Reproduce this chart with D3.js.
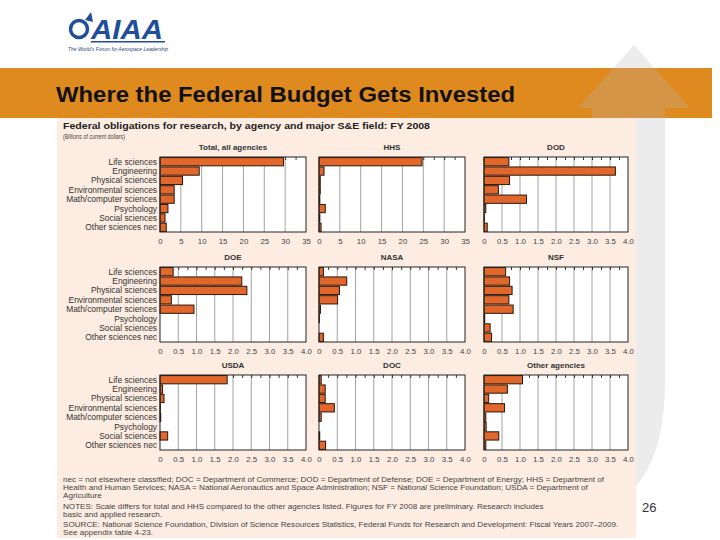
<!DOCTYPE html>
<html>
<head>
<meta charset="utf-8">
<script src="https://cdn.jsdelivr.net/npm/d3@7"></script>
<style>
  html, body { margin: 0; padding: 0; background: #ffffff; }
  svg { display: block; font-family: "Liberation Sans", Arial, Helvetica, sans-serif; }
</style>
</head>
<body>
<svg id="slide" width="720" height="540"></svg>
<script>
// ---------------- DATA ----------------
const categories = ["Life sciences", "Engineering", "Physical sciences", "Environmental sciences",
  "Math/computer sciences", "Psychology", "Social sciences", "Other sciences nec"];
const panelTitles = ["Total, all agencies", "HHS", "DOD", "DOE", "NASA", "NSF", "USDA", "DOC", "Other agencies"];
const totalAll      = [29.6, 9.4, 5.4, 3.4, 3.4, 1.9, 1.2, 1.5];
const hhs           = [24.7, 1.2, 0.3, 0.3, 0.2, 1.5, 0.2, 0.5];
const dod           = [0.69, 3.65, 0.71, 0.40, 1.18, 0.05, 0.01, 0.09];
const doe           = [0.36, 2.24, 2.38, 0.31, 0.93, 0, 0, 0];
const nasa          = [0.12, 0.76, 0.56, 0.51, 0.04, 0.01, 0, 0.12];
const nsf           = [0.60, 0.71, 0.78, 0.69, 0.81, 0.02, 0.17, 0.21];
const usda          = [1.84, 0.07, 0.11, 0.01, 0.02, 0, 0.21, 0];
const doc           = [0.06, 0.17, 0.17, 0.42, 0.06, 0, 0.02, 0.18];
const otherAgencies = [1.07, 0.65, 0.13, 0.57, 0.05, 0.06, 0.41, 0.05];
const wideTicks   = [0, 5, 10, 15, 20, 25, 30, 35];
const narrowTicks = [0, 0.5, 1.0, 1.5, 2.0, 2.5, 3.0, 3.5, 4.0];
const slideTitle = "Where the Federal Budget Gets Invested";
const chartTitle = "Federal obligations for research, by agency and major S&E field: FY 2008";
const chartUnits = "(Billions of current dollars)";
const noteLines = [
  "nec = not elsewhere classified; DOC = Department of Commerce; DOD = Department of Defense; DOE = Department of Energy; HHS = Department of",
  "Health and Human Services; NASA = National Aeronautics and Space Administration; NSF = National Science Foundation; USDA = Department of",
  "Agriculture",
  "NOTES: Scale differs for total and HHS compared to the other agencies listed. Figures for FY 2008 are preliminary. Research includes",
  "basic and applied research.",
  "SOURCE: National Science Foundation, Division of Science Resources Statistics, Federal Funds for Research and Development: Fiscal Years 2007\u20132009.",
  "See appendix table 4-23."
];
const pageNumber = "26";

// ---------------- DRAW ----------------
const svg = d3.select("#slide");
svg.append("rect").attr("width", 720).attr("height", 540).attr("fill", "#ffffff");

// orange title band
svg.append("rect").attr("x", 0).attr("y", 68).attr("width", 712).attr("height", 50).attr("fill", "#df8a1f");

// watermark arrow
svg.append("path")
  .attr("d", "M578,108 L634,45 L690,108 L665,108 L665,380 C665,430 656,460 637,486 L592,486 L592,108 Z")
  .attr("fill", "#b4b4b4").attr("opacity", 0.26);

// logo
const logo = svg.append("g");
logo.append("circle").attr("cx", 79).attr("cy", 29).attr("r", 8.5).attr("fill", "none")
  .attr("stroke", "#1f4e9a").attr("stroke-width", 3.5);
logo.append("path").attr("d", "M85,20 L91,12 L93,22 Z").attr("fill", "#1f4e9a");
logo.append("text").attr("x", 91).attr("y", 39).attr("font-size", 28).attr("font-weight", "bold")
  .attr("font-style", "italic").attr("fill", "#1f4e9a").attr("textLength", 72)
  .attr("lengthAdjust", "spacingAndGlyphs").text("AIAA");
logo.append("rect").attr("x", 91).attr("y", 41).attr("width", 74).attr("height", 1.5).attr("fill", "#1f4e9a");
logo.append("text").attr("x", 68).attr("y", 51).attr("font-size", 5).attr("font-style", "italic")
  .attr("fill", "#1f3f7a").attr("textLength", 100).attr("lengthAdjust", "spacingAndGlyphs")
  .text("The World's Forum for Aerospace Leadership");

// slide title
svg.append("text").attr("x", 56).attr("y", 102).attr("font-size", 22).attr("font-weight", "bold")
  .attr("fill", "#111").attr("textLength", 459).attr("lengthAdjust", "spacingAndGlyphs").text(slideTitle);

// chart backdrop
svg.append("rect").attr("x", 57).attr("y", 118).attr("width", 579).attr("height", 420).attr("fill", "#fcece1");

svg.append("text").attr("x", 63).attr("y", 129).attr("font-size", 9.5).attr("font-weight", "bold")
  .attr("fill", "#222").attr("textLength", 367).attr("lengthAdjust", "spacingAndGlyphs").text(chartTitle);
svg.append("text").attr("x", 63).attr("y", 139).attr("font-size", 7)
  .attr("fill", "#444").attr("textLength", 62).attr("lengthAdjust", "spacingAndGlyphs").text(chartUnits);

const panelValues = [totalAll, hhs, dod, doe, nasa, nsf, usda, doc, otherAgencies];
const colX = [160, 319, 484];
const colW = [146, 146, 144];
const rowY = [157, 267, 375];
const plotH = 75;
const fmt = v => v === 0 ? "0" : (Number.isInteger(v) && v >= 5 ? String(v) : d3.format(".1f")(v));

panelValues.forEach((vals, i) => {
  const col = i % 3, row = Math.floor(i / 3);
  const left = colX[col], top = rowY[row], W = colW[col];
  const ticks = i < 2 ? wideTicks : narrowTicks;
  const maxV = ticks[ticks.length - 1];
  const step = ticks[1] - ticks[0];
  const x = d3.scaleLinear().domain([0, maxV]).range([left, left + W]);
  const y = d3.scaleBand().domain(categories).range([top, top + plotH]).paddingInner(0.12).paddingOuter(0.06);
  const g = svg.append("g");

  g.append("rect").attr("x", left).attr("y", top).attr("width", W).attr("height", plotH).attr("fill", "#ffffff");

  // grid
  g.selectAll("line.grid").data(ticks.slice(1, -1)).join("line")
    .attr("x1", d => x(d)).attr("x2", d => x(d)).attr("y1", top).attr("y2", top + plotH)
    .attr("stroke", "#8a8a8a").attr("stroke-width", 0.8);

  // top minor ticks
  const minor = d3.range(0, maxV + 1e-9, step / 2).slice(1, -1);
  const topAxis = g.append("g").attr("transform", `translate(0,${top})`)
    .call(d3.axisTop(x).tickValues(minor).tickSize(-3).tickFormat(""));
  topAxis.select(".domain").remove();
  topAxis.selectAll("line").attr("stroke", "#222").attr("stroke-width", 0.9);

  // bottom labels
  const bot = g.append("g").attr("transform", `translate(0,${top + plotH})`)
    .call(d3.axisBottom(x).tickValues(ticks).tickSize(0).tickPadding(6).tickFormat(fmt));
  bot.select(".domain").remove();
  bot.selectAll("text").attr("font-size", 7.8).attr("fill", "#444")
    .attr("font-family", "\"Liberation Sans\", Arial, sans-serif");

  // bars
  g.selectAll("rect.bar").data(categories.map((c, k) => ({ c, v: vals[k] })).filter(d => d.v > 0)).join("rect")
    .attr("class", "bar")
    .attr("x", x(0)).attr("y", d => y(d.c))
    .attr("width", d => x(d.v) - x(0)).attr("height", y.bandwidth())
    .attr("fill", "#e2672b").attr("stroke", "#2a160c").attr("stroke-width", 1);

  // frame
  g.append("rect").attr("x", left).attr("y", top).attr("width", W).attr("height", plotH)
    .attr("fill", "none").attr("stroke", "#222").attr("stroke-width", 1);

  // title
  g.append("text").attr("x", left + W / 2).attr("y", top - 7).attr("text-anchor", "middle")
    .attr("font-size", 8).attr("font-weight", "bold").attr("fill", "#333").text(panelTitles[i]);

  // category labels (first column only)
  if (col === 0) {
    g.selectAll("text.cat").data(categories).join("text")
      .attr("x", left - 3).attr("y", d => y(d) + y.bandwidth() / 2 + 3)
      .attr("text-anchor", "end").attr("font-size", 8.4).attr("fill", "#333").text(d => d);
  }
});

// notes
const noteY = [482, 490, 498, 508.5, 516.5, 527, 535];
svg.selectAll("text.note").data(noteLines).join("text")
  .attr("x", 63).attr("y", (d, k) => noteY[k]).attr("font-size", 8.1).attr("fill", "#444").text(d => d);

svg.append("text").attr("x", 642).attr("y", 512).attr("font-size", 13).attr("fill", "#333").text(pageNumber);
</script>
</body>
</html>
